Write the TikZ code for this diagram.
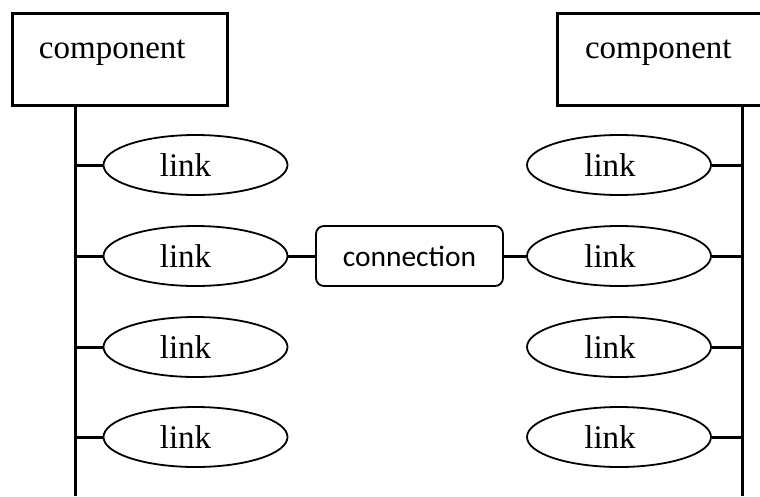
\documentclass[tikz,border=0pt]{standalone}
\usepackage{fontspec}
\setmainfont{Liberation Serif}
\newfontfamily\connfont{Carlito}
\usetikzlibrary{shapes.geometric}
\begin{document}
\begin{tikzpicture}[x=1pt,y=-1pt,
  compbox/.style={draw, line width=3pt, rectangle, inner sep=0pt,
    minimum width=215pt, text width=215pt, align=left,
    text height=45pt, text depth=47pt,
    font=\fontsize{33}{40}\selectfont},
  linkell/.style={draw, line width=1.8pt, ellipse, inner sep=0pt,
    minimum width=184pt, minimum height=60pt,
    font=\fontsize{33}{40}\selectfont},
  connbox/.style={draw, line width=1.8pt, rectangle, rounded corners=8pt,
    inner sep=0pt, minimum width=187pt, minimum height=60pt,
    font=\connfont\fontsize{29.5}{36}\selectfont},
  bus/.style={line width=3pt},
  stub/.style={line width=3pt}]
\useasboundingbox (0,0) rectangle (760,496);
\clip (0,0) rectangle (760,496);

% component boxes
\node[compbox] (cl) at (119.5,59) {\hspace*{27pt}component};
\node[compbox] (cr) at (664.5,59) {\hspace*{28pt}component};

% bus line ends at the lower edge
\coordinate (lbot) at (75,496);
\coordinate (rbot) at (742,496);
\draw[bus] (cl.south -| lbot) -- (lbot);
\draw[bus] (cr.south -| rbot) -- (rbot);

% link ellipses on both sides (label sits a little left of centre)
\foreach \i/\y in {1/165,2/256,3/347,4/437}{
  \node[linkell] (ll\i) at (195.5,\y) {link\hspace*{20pt}};
  \node[linkell] (lr\i) at (619,\y) {link\hspace*{18pt}};
  \draw[stub] (ll\i.west) -- (ll\i.west -| lbot);
  \draw[stub] (lr\i.east) -- (lr\i.east -| rbot);
}

% connection between the two middle links
\node[connbox] (conn) at (409.5,256) {connection};
\draw[stub] (ll2.east) -- (conn.west);
\draw[stub] (conn.east) -- (lr2.west);
\end{tikzpicture}
\end{document}
